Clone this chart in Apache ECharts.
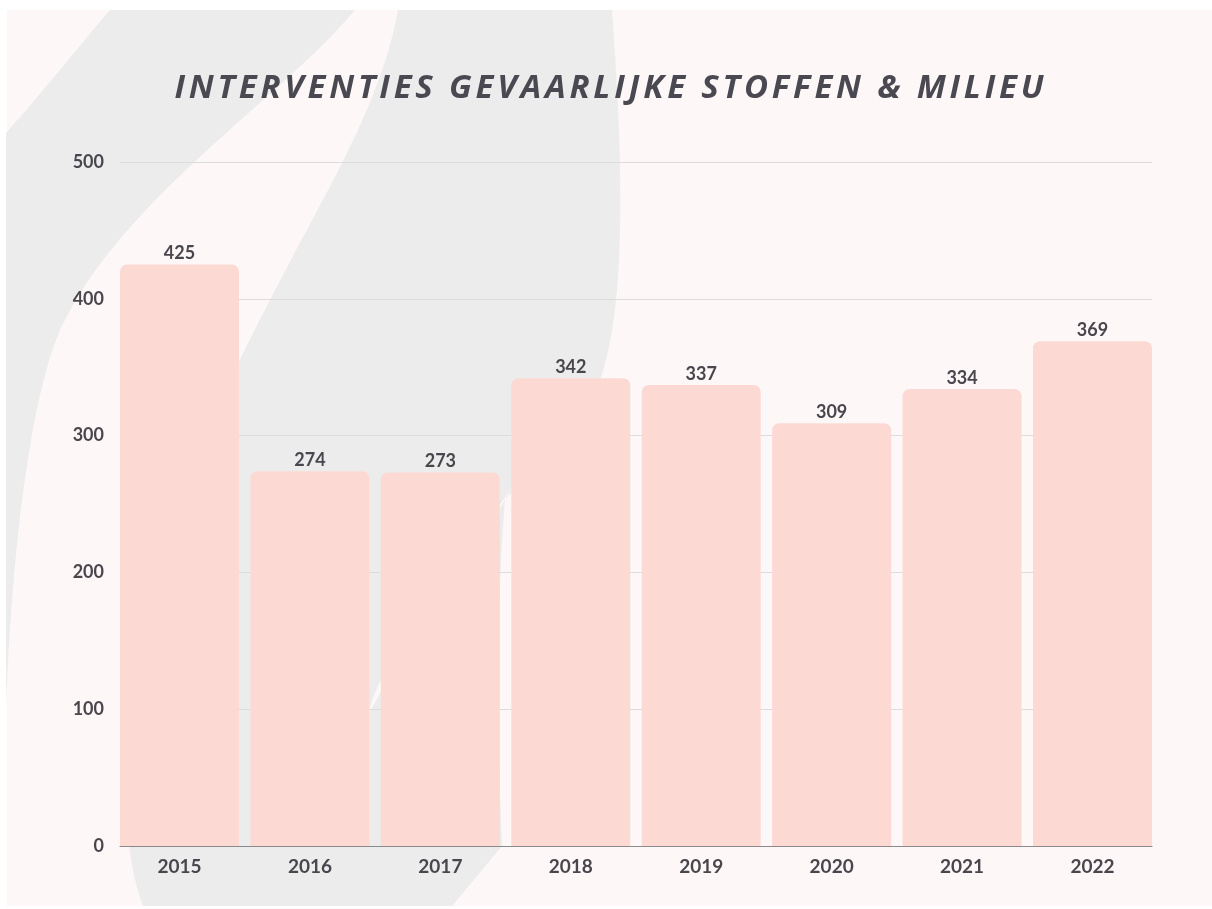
<!DOCTYPE html>
<html>
<head>
<meta charset="utf-8">
<script src="https://cdn.jsdelivr.net/npm/echarts@6/dist/echarts.min.js"></script>
<style>
html,body{margin:0;padding:0;background:#ffffff;}
#wrap{position:relative;width:1212px;height:909px;}
#chart{position:absolute;left:0;top:0;width:1212px;height:909px;}
#title{position:absolute;left:0;top:0;width:1212px;height:140px;pointer-events:none;}
</style>
</head>
<body>
<div id="wrap">
  <div id="chart"></div>
  <div id="title"></div>
</div>
<script>
const titleText = 'INTERVENTIES GEVAARLIJKE STOFFEN & MILIEU';
const categories = ['2015','2016','2017','2018','2019','2020','2021','2022'];
const values = [425, 274, 273, 342, 337, 309, 334, 369];
const yTicks = [0, 100, 200, 300, 400, 500];

const textColor = '#49474d';
const grey = '#ececec';
const bg = '#fdf8f7';

// turn a simple path (M, L, C, Z with absolute coords) into polygon points for background decoration
function pathToPoints(d) {
  const tokens = d.match(/[MLCZ]|-?\d+(\.\d+)?/g);
  const pts = [];
  let i = 0, cur = [0, 0], cmd = null;
  while (i < tokens.length) {
    const t = tokens[i];
    if (/[MLCZ]/.test(t)) { cmd = t; i++; if (cmd === 'Z') continue; }
    if (cmd === 'M' || cmd === 'L') {
      cur = [+tokens[i], +tokens[i + 1]]; pts.push(cur.slice()); i += 2;
    } else if (cmd === 'C') {
      const p1 = [+tokens[i], +tokens[i + 1]], p2 = [+tokens[i + 2], +tokens[i + 3]], p3 = [+tokens[i + 4], +tokens[i + 5]];
      for (let k = 1; k <= 24; k++) {
        const s = k / 24, u = 1 - s;
        pts.push([
          u*u*u*cur[0] + 3*u*u*s*p1[0] + 3*u*s*s*p2[0] + s*s*s*p3[0],
          u*u*u*cur[1] + 3*u*u*s*p1[1] + 3*u*s*s*p2[1] + s*s*s*p3[1]
        ]);
      }
      cur = p3; i += 6;
    } else { i++; }
  }
  return pts;
}

const leftShape = 'M110,10 L355,10 C280,100 120,200 60,330 C30,400 12,550 6,705 L6,133 C40,95 80,45 110,10 Z';
const mainShape = 'M398,10 L612,10 C622,150 628,300 600,380 C575,440 530,470 505,500 C495,620 498,760 502,846 L452,906 L143,906 C130,870 125,830 127,780 C128,640 190,450 265,310 C320,200 380,110 398,10 Z';
const streak = 'M512,488 C470,560 420,620 382,690 C360,730 330,780 300,830 C340,760 368,720 372,700 C400,630 460,560 512,488 Z';

const chart = echarts.init(document.getElementById('chart'));
chart.setOption({
  backgroundColor: '#ffffff',
  animation: false,
  graphic: [
    { type: 'rect', z: -10, silent: true, shape: { x: 7, y: 10, width: 1205, height: 896 }, style: { fill: bg } },
    { type: 'polygon', z: -9, silent: true, shape: { points: pathToPoints(leftShape) }, style: { fill: grey } },
    { type: 'polygon', z: -9, silent: true, shape: { points: pathToPoints(mainShape) }, style: { fill: grey } },
    { type: 'polygon', z: -8, silent: true, shape: { points: pathToPoints(streak) }, style: { fill: bg } }
  ],
  grid: [
    { left: 120, right: 60, top: 162, bottom: 63 },
    { left: 114.3, right: 54.3, top: 162, bottom: 63 }
  ],
  xAxis: [
    { type: 'category', gridIndex: 0, data: categories, axisLine: { show: true, lineStyle: { color: '#8a8a8a', width: 1 } }, axisTick: { show: false }, axisLabel: { show: false }, splitLine: { show: false } },
    { type: 'category', gridIndex: 1, data: categories, axisLine: { show: false }, axisTick: { show: false },
      axisLabel: { show: true, color: textColor, fontFamily: 'Lato', fontWeight: 'bold', fontSize: 19, margin: 11 } }
  ],
  yAxis: [
    { type: 'value', gridIndex: 0, min: 0, max: 500, interval: 100, axisLine: { show: false }, axisTick: { show: false },
      axisLabel: { color: textColor, fontFamily: 'Lato', fontWeight: 'bold', fontSize: 18, margin: 16,
        formatter: function (v) { return yTicks.indexOf(v) >= 0 ? String(v) : ''; } },
      splitLine: { show: true, lineStyle: { color: '#dcdcdc', width: 1 } } },
    { type: 'value', gridIndex: 1, min: 0, max: 500, interval: 100, show: false, splitLine: { show: false } }
  ],
  series: [{
    type: 'bar',
    xAxisIndex: 1,
    yAxisIndex: 1,
    data: values,
    barWidth: 119,
    itemStyle: { color: '#fcdad3', borderRadius: [7, 7, 0, 0] },
    label: { show: true, position: 'top', distance: 2, color: textColor, fontFamily: 'Lato', fontWeight: 'bold', fontSize: 18 }
  }]
});

// Title: drawn by its own ECharts instance so that tracking (letter spacing) can be applied to its canvas
const titleFont = 'italic 700 33px "Open Sans"';
const measure = document.createElement('canvas').getContext('2d');
measure.font = titleFont;
const baseWidth = measure.measureText(titleText).width;
const spacingSupported = 'letterSpacing' in measure;
const spacing = spacingSupported ? Math.max(0, (873 - baseWidth) / titleText.length) : 0;

const titleChart = echarts.init(document.getElementById('title'));
function titleOption(final) {
  return {
    animation: false,
    graphic: [
      { id: 'title', type: 'text', x: 609 + spacing / 2, y: 89,
        style: { text: titleText, fill: final ? '#4a4850' : 'rgba(74,72,80,0.999)', font: titleFont, align: 'center', verticalAlign: 'middle' } }
    ]
  };
}
titleChart.setOption(titleOption(false));
titleChart.getZr().flush();
const tCanvas = document.querySelector('#title canvas');
if (tCanvas && spacingSupported) {
  tCanvas.getContext('2d').letterSpacing = spacing.toFixed(2) + 'px';
}
titleChart.setOption(titleOption(true));
titleChart.getZr().flush();
</script>
</body>
</html>
